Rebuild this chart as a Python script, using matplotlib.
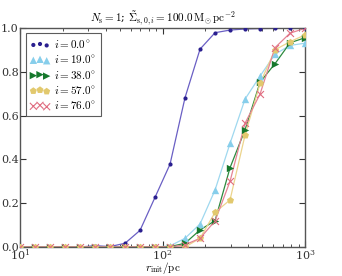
import numpy as np
import matplotlib
matplotlib.use('Agg')
import matplotlib.pyplot as plt

plt.rcParams['mathtext.fontset'] = 'cm'
plt.rcParams['font.family'] = 'serif'
plt.rcParams['font.serif'] = ['DejaVu Serif']

# radii: 20 log-spaced points between 10 and 1000 pc
r_init = np.logspace(1, 3, 20)

f_i0 = [0, 0, 0, 0, 0, 0.006, 0.002, 0.017, 0.076, 0.227, 0.378, 0.682, 0.903, 0.978, 0.99, 0.995, 0.997, 0.998, 0.999, 1.0]
f_i19 = [0, 0, 0, 0, 0, 0, 0, 0, 0, 0, 0.005, 0.04, 0.105, 0.26, 0.473, 0.675, 0.78, 0.88, 0.92, 0.93]
f_i38 = [0, 0, 0, 0, 0, 0, 0, 0, 0, 0, 0.002, 0.017, 0.078, 0.12, 0.362, 0.535, 0.752, 0.837, 0.932, 0.955]
f_i57 = [0, 0, 0, 0, 0, 0, 0, 0, 0, 0, 0, 0.0, 0.04, 0.158, 0.215, 0.511, 0.747, 0.9, 0.937, 0.968]
f_i76 = [0, 0, 0, 0, 0, 0, 0, 0, 0, 0, 0, 0.01, 0.04, 0.119, 0.30, 0.565, 0.698, 0.91, 0.976, 0.998]

series = [
    (f_i0, r'$i=0.0^{\circ}$', '#2a1f8f', '#6a5fc4', 'o', 3),
    (f_i19, r'$i=19.0^{\circ}$', '#87ceeb', '#9fd8ef', '^', 5.3),
    (f_i38, r'$i=38.0^{\circ}$', '#16782c', '#2d8a3e', '>', 5.3),
    (f_i57, r'$i=57.0^{\circ}$', '#e2c96e', '#ecd48c', 'p', 5.3),
    (f_i76, r'$i=76.0^{\circ}$', '#e06c80', '#e58494', 'x', 5),
]

fig = plt.figure(figsize=(3.42, 2.76), dpi=100)
ax = fig.add_axes([0.0585, 0.105, 0.8335, 0.794])

for vals, lab, mc, lc, mk, ms in series:
    ax.plot(r_init, vals, '-', color=lc, lw=0.9, zorder=2)
    ax.scatter(r_init, vals, marker=mk, s=ms**2, color=mc,
               linewidths=0.8 if mk == 'x' else 0, label=lab, zorder=3)

ax.set_xscale('log')
ax.set_xlim(10, 1000)
ax.set_ylim(0, 1)
ax.set_yticks([0.0, 0.2, 0.4, 0.6, 0.8, 1.0])
ax.set_yticklabels(['0.0', '0.2', '0.4', '0.6', '0.8', '1.0'])
ax.tick_params(which='both', direction='in', top=True, right=True,
               labelsize=8, colors='#333333', pad=1)
ax.tick_params(axis='x', which='both', pad=0.5)
ax.tick_params(which='major', length=4)
ax.tick_params(which='minor', length=2)
for sp in ax.spines.values():
    sp.set_color('#555555')
    sp.set_linewidth(1.0)

ax.set_title(r'$N_{\rm s}=1$; $\tilde{\Sigma}_{{\rm s},0,i}=100.0\,{\rm M}_{\odot}\,{\rm pc}^{-2}$',
             fontsize=8, pad=2)
ax.set_xlabel(r'$r_{\rm init}/{\rm pc}$', fontsize=8, labelpad=-1.5)

leg = ax.legend(loc='upper left', scatterpoints=3, fontsize=8, frameon=True,
                fancybox=False, edgecolor='#333333', handletextpad=0.4,
                borderpad=0.4, labelspacing=0.3, handlelength=1.8)
leg.get_frame().set_linewidth(0.8)

fig.savefig('out.png', dpi=100)
